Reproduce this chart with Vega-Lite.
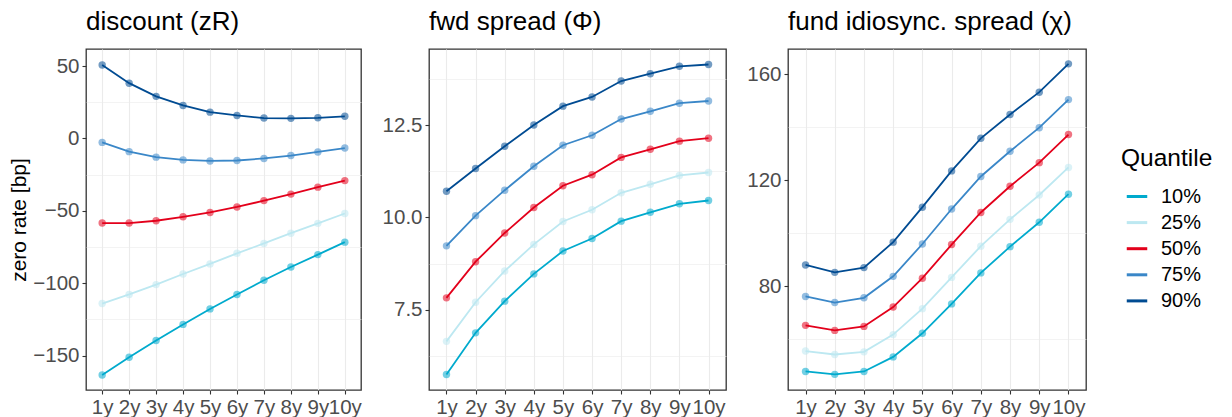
{
  "$schema": "https://vega.github.io/schema/vega-lite/v6.json",
  "padding": {"top": 8, "left": 8, "right": 5, "bottom": 5},
  "config": {
    "font": "Liberation Sans",
    "view": {"stroke": "#333333", "strokeWidth": 1.3},
    "axis": {
      "labelFont": "Liberation Sans", "labelFontSize": 20.5, "labelColor": "#4D4D4D",
      "tickColor": "#333333", "tickSize": 4, "tickWidth": 1.1, "domain": false,
      "gridColor": "#EBEBEB", "gridWidth": 1.1,
      "titleFont": "Liberation Sans", "titleFontWeight": "normal", "titleFontSize": 21, "titleColor": "#000000",
      "labelPadding": 3
    },
    "title": {"font": "Liberation Sans", "fontSize": 26, "fontWeight": "normal", "anchor": "start", "frame": "group", "color": "#000000", "offset": 14},
    "legend": {
      "titleFont": "Liberation Sans", "titleFontSize": 24.5, "titleFontWeight": "normal", "titleColor": "#000000",
      "labelFont": "Liberation Sans", "labelFontSize": 20, "labelColor": "#000000",
      "symbolType": "stroke", "symbolStrokeWidth": 3, "symbolSize": 420, "symbolOpacity": 1, "symbolOffset": 4,
      "rowPadding": 4.1, "titlePadding": 13, "labelOffset": 12, "padding": 0
    },
    "concat": {"spacing": 19}
  },
  "data": {"values": [
    {"p":"A","t":"1y","q":"10%","v":-163.3},{"p":"A","t":"2y","q":"10%","v":-151.1},{"p":"A","t":"3y","q":"10%","v":-139.5},{"p":"A","t":"4y","q":"10%","v":-128.4},{"p":"A","t":"5y","q":"10%","v":-117.7},{"p":"A","t":"6y","q":"10%","v":-107.7},{"p":"A","t":"7y","q":"10%","v":-97.9},{"p":"A","t":"8y","q":"10%","v":-88.8},{"p":"A","t":"9y","q":"10%","v":-80.2},{"p":"A","t":"10y","q":"10%","v":-71.6},
    {"p":"A","t":"1y","q":"25%","v":-114.0},{"p":"A","t":"2y","q":"25%","v":-107.7},{"p":"A","t":"3y","q":"25%","v":-100.9},{"p":"A","t":"4y","q":"25%","v":-93.6},{"p":"A","t":"5y","q":"25%","v":-86.6},{"p":"A","t":"6y","q":"25%","v":-79.3},{"p":"A","t":"7y","q":"25%","v":-72.5},{"p":"A","t":"8y","q":"25%","v":-65.4},{"p":"A","t":"9y","q":"25%","v":-58.6},{"p":"A","t":"10y","q":"25%","v":-51.8},
    {"p":"A","t":"1y","q":"50%","v":-58.4},{"p":"A","t":"2y","q":"50%","v":-58.4},{"p":"A","t":"3y","q":"50%","v":-56.8},{"p":"A","t":"4y","q":"50%","v":-54.1},{"p":"A","t":"5y","q":"50%","v":-51.1},{"p":"A","t":"6y","q":"50%","v":-47.3},{"p":"A","t":"7y","q":"50%","v":-42.9},{"p":"A","t":"8y","q":"50%","v":-38.4},{"p":"A","t":"9y","q":"50%","v":-33.6},{"p":"A","t":"10y","q":"50%","v":-29.1},
    {"p":"A","t":"1y","q":"75%","v":-2.7},{"p":"A","t":"2y","q":"75%","v":-9.1},{"p":"A","t":"3y","q":"75%","v":-12.9},{"p":"A","t":"4y","q":"75%","v":-14.8},{"p":"A","t":"5y","q":"75%","v":-15.5},{"p":"A","t":"6y","q":"75%","v":-15.2},{"p":"A","t":"7y","q":"75%","v":-13.8},{"p":"A","t":"8y","q":"75%","v":-11.8},{"p":"A","t":"9y","q":"75%","v":-9.3},{"p":"A","t":"10y","q":"75%","v":-6.6},
    {"p":"A","t":"1y","q":"90%","v":50.7},{"p":"A","t":"2y","q":"90%","v":38.2},{"p":"A","t":"3y","q":"90%","v":29.1},{"p":"A","t":"4y","q":"90%","v":22.8},{"p":"A","t":"5y","q":"90%","v":18.2},{"p":"A","t":"6y","q":"90%","v":15.9},{"p":"A","t":"7y","q":"90%","v":14.1},{"p":"A","t":"8y","q":"90%","v":13.9},{"p":"A","t":"9y","q":"90%","v":14.3},{"p":"A","t":"10y","q":"90%","v":15.3},

    {"p":"B","t":"1y","q":"10%","v":5.74},{"p":"B","t":"2y","q":"10%","v":6.87},{"p":"B","t":"3y","q":"10%","v":7.73},{"p":"B","t":"4y","q":"10%","v":8.47},{"p":"B","t":"5y","q":"10%","v":9.09},{"p":"B","t":"6y","q":"10%","v":9.43},{"p":"B","t":"7y","q":"10%","v":9.90},{"p":"B","t":"8y","q":"10%","v":10.14},{"p":"B","t":"9y","q":"10%","v":10.37},{"p":"B","t":"10y","q":"10%","v":10.46},
    {"p":"B","t":"1y","q":"25%","v":6.64},{"p":"B","t":"2y","q":"25%","v":7.70},{"p":"B","t":"3y","q":"25%","v":8.55},{"p":"B","t":"4y","q":"25%","v":9.27},{"p":"B","t":"5y","q":"25%","v":9.89},{"p":"B","t":"6y","q":"25%","v":10.21},{"p":"B","t":"7y","q":"25%","v":10.67},{"p":"B","t":"8y","q":"25%","v":10.90},{"p":"B","t":"9y","q":"25%","v":11.14},{"p":"B","t":"10y","q":"25%","v":11.22},
    {"p":"B","t":"1y","q":"50%","v":7.82},{"p":"B","t":"2y","q":"50%","v":8.80},{"p":"B","t":"3y","q":"50%","v":9.58},{"p":"B","t":"4y","q":"50%","v":10.27},{"p":"B","t":"5y","q":"50%","v":10.86},{"p":"B","t":"6y","q":"50%","v":11.16},{"p":"B","t":"7y","q":"50%","v":11.63},{"p":"B","t":"8y","q":"50%","v":11.85},{"p":"B","t":"9y","q":"50%","v":12.07},{"p":"B","t":"10y","q":"50%","v":12.15},
    {"p":"B","t":"1y","q":"75%","v":9.23},{"p":"B","t":"2y","q":"75%","v":10.05},{"p":"B","t":"3y","q":"75%","v":10.74},{"p":"B","t":"4y","q":"75%","v":11.39},{"p":"B","t":"5y","q":"75%","v":11.96},{"p":"B","t":"6y","q":"75%","v":12.23},{"p":"B","t":"7y","q":"75%","v":12.67},{"p":"B","t":"8y","q":"75%","v":12.88},{"p":"B","t":"9y","q":"75%","v":13.10},{"p":"B","t":"10y","q":"75%","v":13.16},
    {"p":"B","t":"1y","q":"90%","v":10.71},{"p":"B","t":"2y","q":"90%","v":11.33},{"p":"B","t":"3y","q":"90%","v":11.93},{"p":"B","t":"4y","q":"90%","v":12.51},{"p":"B","t":"5y","q":"90%","v":13.02},{"p":"B","t":"6y","q":"90%","v":13.27},{"p":"B","t":"7y","q":"90%","v":13.70},{"p":"B","t":"8y","q":"90%","v":13.90},{"p":"B","t":"9y","q":"90%","v":14.10},{"p":"B","t":"10y","q":"90%","v":14.15},

    {"p":"C","t":"1y","q":"10%","v":47.8},{"p":"C","t":"2y","q":"10%","v":46.7},{"p":"C","t":"3y","q":"10%","v":47.8},{"p":"C","t":"4y","q":"10%","v":53.3},{"p":"C","t":"5y","q":"10%","v":62.2},{"p":"C","t":"6y","q":"10%","v":73.3},{"p":"C","t":"7y","q":"10%","v":85.0},{"p":"C","t":"8y","q":"10%","v":94.9},{"p":"C","t":"9y","q":"10%","v":104.1},{"p":"C","t":"10y","q":"10%","v":114.7},
    {"p":"C","t":"1y","q":"25%","v":55.5},{"p":"C","t":"2y","q":"25%","v":54.2},{"p":"C","t":"3y","q":"25%","v":55.2},{"p":"C","t":"4y","q":"25%","v":61.7},{"p":"C","t":"5y","q":"25%","v":71.5},{"p":"C","t":"6y","q":"25%","v":83.3},{"p":"C","t":"7y","q":"25%","v":95.1},{"p":"C","t":"8y","q":"25%","v":105.2},{"p":"C","t":"9y","q":"25%","v":114.4},{"p":"C","t":"10y","q":"25%","v":124.8},
    {"p":"C","t":"1y","q":"50%","v":65.2},{"p":"C","t":"2y","q":"50%","v":63.3},{"p":"C","t":"3y","q":"50%","v":64.8},{"p":"C","t":"4y","q":"50%","v":72.1},{"p":"C","t":"5y","q":"50%","v":83.0},{"p":"C","t":"6y","q":"50%","v":95.7},{"p":"C","t":"7y","q":"50%","v":107.8},{"p":"C","t":"8y","q":"50%","v":117.7},{"p":"C","t":"9y","q":"50%","v":126.6},{"p":"C","t":"10y","q":"50%","v":137.2},
    {"p":"C","t":"1y","q":"75%","v":76.1},{"p":"C","t":"2y","q":"75%","v":73.8},{"p":"C","t":"3y","q":"75%","v":75.6},{"p":"C","t":"4y","q":"75%","v":83.7},{"p":"C","t":"5y","q":"75%","v":95.9},{"p":"C","t":"6y","q":"75%","v":109.1},{"p":"C","t":"7y","q":"75%","v":121.4},{"p":"C","t":"8y","q":"75%","v":130.9},{"p":"C","t":"9y","q":"75%","v":139.8},{"p":"C","t":"10y","q":"75%","v":150.4},
    {"p":"C","t":"1y","q":"90%","v":88.0},{"p":"C","t":"2y","q":"90%","v":85.2},{"p":"C","t":"3y","q":"90%","v":87.0},{"p":"C","t":"4y","q":"90%","v":96.6},{"p":"C","t":"5y","q":"90%","v":109.8},{"p":"C","t":"6y","q":"90%","v":123.5},{"p":"C","t":"7y","q":"90%","v":135.8},{"p":"C","t":"8y","q":"90%","v":144.8},{"p":"C","t":"9y","q":"90%","v":153.2},{"p":"C","t":"10y","q":"90%","v":163.9}
  ]},
  "hconcat": [
    {
      "width": 275, "height": 341,
      "title": "discount (zR)",
      "transform": [{"filter": "datum.p === 'A'"}],
      "encoding": {
        "x": {"field": "t", "type": "ordinal", "sort": ["1y","2y","3y","4y","5y","6y","7y","8y","9y","10y"], "scale": {"type": "point", "padding": 0.6}, "axis": {"title": null, "labelAngle": 0, "grid": true}},
        "color": {"field": "q", "type": "nominal", "title": "Quantile", "legend": {"orient": "none", "legendX": 1035, "legendY": 98}, "scale": {"domain": ["10%","25%","50%","75%","90%"], "range": ["#00AACD","#BDE8F1","#E3001B","#3A87C8","#004B92"]}}
      },
      "layer": [
        {"mark": {"type": "point", "filled": true, "size": 55, "opacity": 0.55},
         "encoding": {"y": {"field": "v", "type": "quantitative", "scale": {"domain": [-173.7, 61.8], "nice": false, "zero": false}, "axis": {"orient": "left", "values": [-125,-75,-25,25], "labels": false, "ticks": false, "title": null, "gridWidth": 0.6}}}},
        {"mark": {"type": "line", "strokeWidth": 1.8},
         "encoding": {"y": {"field": "v", "type": "quantitative", "axis": {"orient": "left", "values": [-150,-100,-50,0,50], "title": "zero rate [bp]", "titlePadding": 3}}}}
      ],
      "resolve": {"axis": {"y": "independent"}}
    },
    {
      "width": 297, "height": 341,
      "title": "fwd spread (Φ)",
      "transform": [{"filter": "datum.p === 'B'"}],
      "encoding": {
        "x": {"field": "t", "type": "ordinal", "sort": ["1y","2y","3y","4y","5y","6y","7y","8y","9y","10y"], "scale": {"type": "point", "padding": 0.6}, "axis": {"title": null, "labelAngle": 0, "grid": true}},
        "color": {"field": "q", "type": "nominal", "title": "Quantile", "scale": {"domain": ["10%","25%","50%","75%","90%"], "range": ["#00AACD","#BDE8F1","#E3001B","#3A87C8","#004B92"]}}
      },
      "layer": [
        {"mark": {"type": "point", "filled": true, "size": 55, "opacity": 0.55},
         "encoding": {"y": {"field": "v", "type": "quantitative", "scale": {"domain": [5.32, 14.57], "nice": false, "zero": false}, "axis": {"orient": "left", "values": [6.25, 8.75, 11.25, 13.75], "labels": false, "ticks": false, "title": null, "gridWidth": 0.6}}}},
        {"mark": {"type": "line", "strokeWidth": 1.8},
         "encoding": {"y": {"field": "v", "type": "quantitative", "axis": {"orient": "left", "values": [7.5, 10, 12.5], "format": ".1f", "title": null}}}}
      ],
      "resolve": {"axis": {"y": "independent"}}
    },
    {
      "width": 298, "height": 341,
      "title": "fund idiosync. spread (χ)",
      "transform": [{"filter": "datum.p === 'C'"}],
      "encoding": {
        "x": {"field": "t", "type": "ordinal", "sort": ["1y","2y","3y","4y","5y","6y","7y","8y","9y","10y"], "scale": {"type": "point", "padding": 0.6}, "axis": {"title": null, "labelAngle": 0, "grid": true}},
        "color": {"field": "q", "type": "nominal", "title": "Quantile", "scale": {"domain": ["10%","25%","50%","75%","90%"], "range": ["#00AACD","#BDE8F1","#E3001B","#3A87C8","#004B92"]}}
      },
      "layer": [
        {"mark": {"type": "point", "filled": true, "size": 55, "opacity": 0.55},
         "encoding": {"y": {"field": "v", "type": "quantitative", "scale": {"domain": [40.8, 169.5], "nice": false, "zero": false}, "axis": {"orient": "left", "values": [60, 100, 140], "labels": false, "ticks": false, "title": null, "gridWidth": 0.6}}}},
        {"mark": {"type": "line", "strokeWidth": 1.8},
         "encoding": {"y": {"field": "v", "type": "quantitative", "axis": {"orient": "left", "values": [80, 120, 160], "title": null}}}}
      ],
      "resolve": {"axis": {"y": "independent"}}
    }
  ],
  "resolve": {"scale": {"y": "independent", "x": "independent", "color": "shared"}}
}
